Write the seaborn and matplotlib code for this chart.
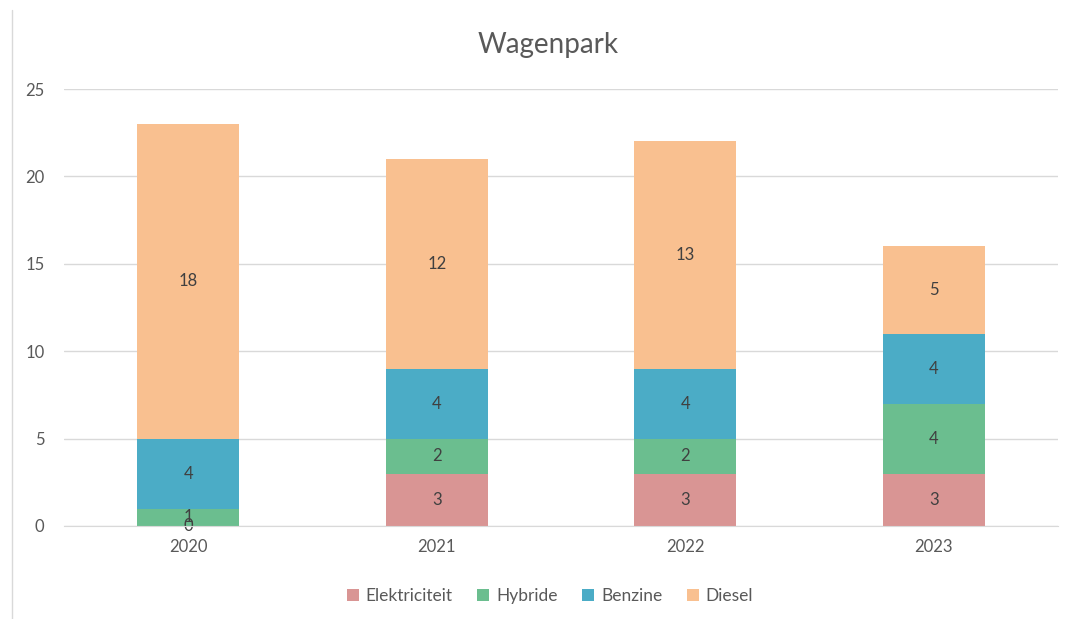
import numpy as np
import pandas as pd
import matplotlib.pyplot as plt
import seaborn as sns
from matplotlib.lines import Line2D
from matplotlib.patches import Patch

# Wagenpark per jaar, per brandstoftype
years = ['2020', '2021', '2022', '2023']
elektriciteit = [0, 3, 3, 3]
hybride = [1, 2, 2, 4]
benzine = [4, 4, 4, 4]
diesel = [18, 12, 13, 5]

series = ['Elektriciteit', 'Hybride', 'Benzine', 'Diesel']
values = [elektriciteit, hybride, benzine, diesel]
colors = ['#D99594', '#6BBE8F', '#4BACC6', '#F9C090']

sns.set_style('white')
plt.rcParams['font.family'] = ['Lato', 'DejaVu Sans']

fig = plt.figure(figsize=(10.71, 6.19), dpi=100)
ax = fig.add_axes([64 / 1071, 1 - 526 / 619, (1058 - 64) / 1071, (526 - 89) / 619])

bottom = np.zeros(len(years))
for name, vals, col in zip(series, values, colors):
    df = pd.DataFrame({'jaar': years, 'aantal': vals})
    sns.barplot(data=df, x='jaar', y='aantal', color=col, width=0.41,
                bottom=bottom, ax=ax, zorder=3, saturation=1, linewidth=0)
    for i, v in enumerate(vals):
        ax.text(i, bottom[i] + v / 2, str(v), ha='center', va='center',
                fontsize=12, color='#404040', zorder=4)
    bottom = bottom + np.array(vals)

ax.set_ylim(0, 25)
ax.set_xlim(-0.5, 3.5)
ax.set_yticks([0, 5, 10, 15, 20, 25])
ax.yaxis.grid(True, color='#D9D9D9', linewidth=1, zorder=0)
ax.set_axisbelow(True)
for s in ['top', 'right', 'left']:
    ax.spines[s].set_visible(False)
ax.spines['bottom'].set_color('#D9D9D9')
ax.spines['bottom'].set_zorder(5)
ax.tick_params(axis='both', length=0, labelsize=12, colors='#595959', pad=9)
ax.tick_params(axis='y', pad=14)
ax.set_xlabel('')
ax.set_ylabel('')

fig.text(548 / 1071, 1 - 45 / 619, 'Wagenpark', ha='center', va='center',
         fontsize=20, color='#595959')

handles = [Patch(facecolor=c, edgecolor='none') for c in colors]
fig.legend(handles, series, loc='center', bbox_to_anchor=(550 / 1071, 1 - 596 / 619),
           ncol=4, frameon=False, fontsize=12.5, labelcolor='#595959',
           handlelength=0.7, handleheight=0.7, handletextpad=0.4, columnspacing=1.4)

# grijze rand links
fig.add_artist(Line2D([12 / 1071, 12 / 1071], [0, 1 - 10 / 619], color='#D9D9D9',
                      linewidth=1, transform=fig.transFigure))

fig.savefig('out.png', dpi=100)
